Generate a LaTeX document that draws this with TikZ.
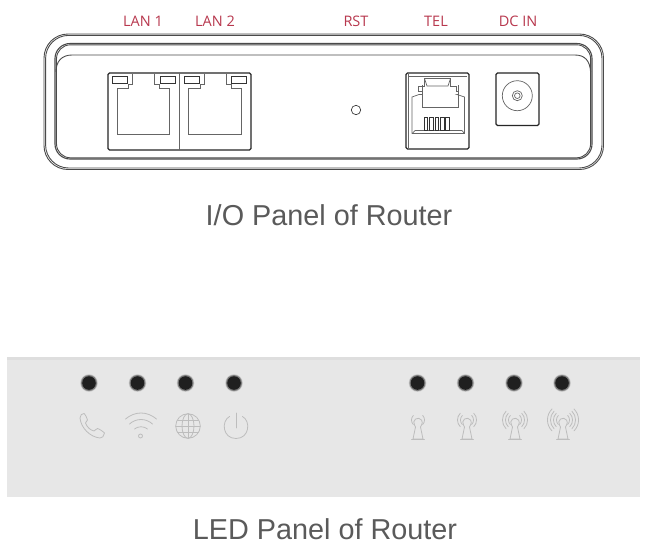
\documentclass[tikz,border=0pt]{standalone}
\usepackage{fontspec}
\setmainfont{Liberation Sans}
\newfontfamily\lblfont{Open Sans}
\definecolor{portred}{HTML}{B8384E}
\definecolor{titlegray}{HTML}{5A5A5A}
\definecolor{panelgray}{HTML}{E7E7E7}
\definecolor{paneltop}{HTML}{DEDEDE}
\definecolor{icongray}{HTML}{BDBDBD}
\definecolor{linegray}{HTML}{4A4A4A}
\tikzset{
  portlabel/.style={text=portred,font=\lblfont\fontsize{14.5}{16}\selectfont,inner sep=0pt,anchor=center},
  paneltitle/.style={text=titlegray,font=\fontsize{28.8}{32}\selectfont,inner sep=0pt,anchor=center},
  shell/.style={draw=linegray,line width=0.9pt},
  fine/.style={draw=linegray!85,line width=0.7pt},
  portbox/.style={draw=black!85,line width=1.3pt,rounded corners=1.5pt},
  icon/.style={draw=icongray,line width=0.8pt,line cap=round,line join=round},
}
\newcommand{\lanport}[1]{%
  \begin{scope}[shift={(#1,0)}]
    \draw[fine] (132.3,74) -- (132.3,84) -- (128.3,84) -- (128.3,88) -- (117,88) -- (117,134) -- (169.3,134) -- (169.3,88) -- (159.3,88) -- (159.3,84) -- (154.3,84) -- (154.3,74);
    \draw[draw=black!80,line width=0.8pt] (112.3,76.7) rectangle (127.7,83.3);
    \draw[draw=black!80,line width=0.8pt] (160,76.7) rectangle (175,83.3);
  \end{scope}}
\newcommand{\ledspot}[1]{%
  \fill[black!60,opacity=.25] (#1,383) circle[radius=8.8pt];
  \fill[black!80,opacity=.5] (#1,383) circle[radius=8pt];
  \fill[black!88] (#1,383) circle[radius=6.8pt];}
\newcommand{\towerbody}[1]{%
  \draw[icon] (#1-2.5,427) -- (#1-3.5,425) arc[start angle=215,end angle=-35,radius=4.3pt] -- (#1+2.5,427)
     -- (#1+5,439) -- (#1-5,439) -- cycle;
  \draw[icon] (#1-6.5,439) -- (#1+6.5,439);}
\newcommand{\towerwave}[2]{%
  \draw[icon] (#1-#2*0.71,420-#2*0.71) arc[start angle=135,end angle=225,radius=#2 pt];
  \draw[icon] (#1+#2*0.71,420-#2*0.71) arc[start angle=45,end angle=-45,radius=#2 pt];}
\begin{document}
\begin{tikzpicture}[x=1pt,y=-1pt]
\useasboundingbox (0,0) rectangle (648,550);
\fill[white] (0,0) rectangle (648,550);

% port labels
\node[portlabel] (lan1) at (143,21) {LAN 1};
\node[portlabel] (lan2) at (215,21) {LAN 2};
\node[portlabel] (rst) at (356,21) {RST};
\node[portlabel] (tel) at (436,21) {TEL};
\node[portlabel] (dcin) at (518,21) {DC IN};

% router shell
\draw[shell] (44,34) [rounded corners=24pt] rectangle (603.5,169.5);
\draw[shell] (45.6,35.4) [rounded corners=23pt] rectangle (602,168);
\draw[shell,line width=1.1pt] (55,43.5) [rounded corners=15pt] rectangle (592,159);
\draw[shell] (56.5,44.8) [rounded corners=14pt] rectangle (590.6,157.8);
\draw[shell] (56,72) .. controls (56,61) and (62,55) .. (72,55) -- (575,55) .. controls (585,55) and (590,61) .. (590.6,72);

% LAN ports
\lanport{0}
\lanport{71.8}
\draw[portbox] (108,73) rectangle (251,150);
\draw[fine] (179,73) -- (179,150);

% reset
\draw[draw=black!75,line width=0.7pt] (356,110) circle[radius=4.7pt];

% TEL port
\draw[portbox] (406,73) rectangle (469,149);
\draw[draw=black!60,line width=1pt] (408,74) -- (408,148);
\draw[fine] (408,76.5) -- (467,76.5);
\draw[fine] (412,133.5) -- (412,97) -- (419,94.5) -- (422,94.5);
\draw[fine] (464.5,133.5) -- (464.5,97) -- (457,94.5) -- (458,94.5);
\draw[fine] (422,91) -- (418.5,91) -- (418.5,86) -- (424.5,86) -- (424.5,78.5) -- (450.5,78.5) -- (450.5,86) -- (456.5,86) -- (456.5,91) -- (458,91);
\draw[fine] (422,85) -- (422,107) -- (458,107) -- (458,85);
\draw[fine] (424.5,78.5) -- (427,86) -- (448,86) -- (450.5,78.5);
\draw[fine] (412,133.5) -- (464.5,133.5);
\draw[fine] (412,133.5) -- (415,130.5) -- (462,130.5) -- (464.5,133.5);
\foreach \p in {424.2,429.6,435,440.4,445.8}
  \draw[draw=black!80,line width=0.7pt,fill=white] (\p,117) rectangle (\p+3.6,130);

% DC jack
\draw[portbox] (496,73) rectangle (539,125.5);
\draw[fine] (517.3,95.7) circle[radius=15pt];
\draw[fine] (517.3,95.7) circle[radius=5pt];
\draw[fine] (517.3,95.7) circle[radius=2.8pt];

\node[paneltitle] (titleA) at (329,215) {I/O Panel of Router};

% LED panel
\fill[panelgray] (7,357) rectangle (640,497);
\fill[paneltop] (7,357) rectangle (640,360);
\foreach \x in {89,137.5,185.5,234,417.5,465.5,514,562} { \ledspot{\x} }

% phone
\draw[icon] (80,418) .. controls (80,415) and (82,413.5) .. (84,413.5) .. controls (85,414) and (87,418) .. (87.5,420)
  .. controls (87,421.5) and (85.5,422) .. (85.5,423) .. controls (87,427) and (90,430) .. (94,431)
  .. controls (95,431) and (96,428.5) .. (97.5,428.5) .. controls (99.5,429) and (103,431.5) .. (104.5,433)
  .. controls (104,436) and (102,438.5) .. (100,438) .. controls (90,437) and (81,428) .. (80,418) -- cycle;
% wifi
\draw[icon] (125.5,419) .. controls (135,411) and (147,411) .. (156.5,419);
\draw[icon] (129.5,424) .. controls (136,418) and (146,418) .. (152.5,424);
\draw[icon] (134.5,429) .. controls (138,426) and (144,426) .. (147.5,429);
\draw[icon] (140.5,436) circle[radius=2pt];
% globe
\draw[icon] (188,426) circle[radius=12.3pt];
\draw[icon] (188,426) ellipse[x radius=6pt,y radius=12.3pt];
\draw[icon] (188,413.7) -- (188,438.3);
\draw[icon] (175.7,426) -- (200.3,426);
\draw[icon] (177.5,420) -- (198.5,420);
\draw[icon] (177.5,432) -- (198.5,432);
% power
\draw[icon] (229.5,416.5) .. controls (221,421) and (222.5,438.5) .. (236,438.5) .. controls (249.5,438.5) and (251,421) .. (242.5,416.5);
\draw[icon] (236,413) -- (236,428);
% towers
\towerbody{418}
\towerwave{418}{6.5}
\towerbody{467}
\towerwave{467}{6.5}\towerwave{467}{9.5}
\towerbody{515}
\towerwave{515}{6.5}\towerwave{515}{9.5}\towerwave{515}{12.5}
\towerbody{563}
\towerwave{563}{6.5}\towerwave{563}{9.5}\towerwave{563}{12.5}\towerwave{563}{15.5}

\node[paneltitle] (titleB) at (325,529) {LED Panel of Router};
\end{tikzpicture}
\end{document}
